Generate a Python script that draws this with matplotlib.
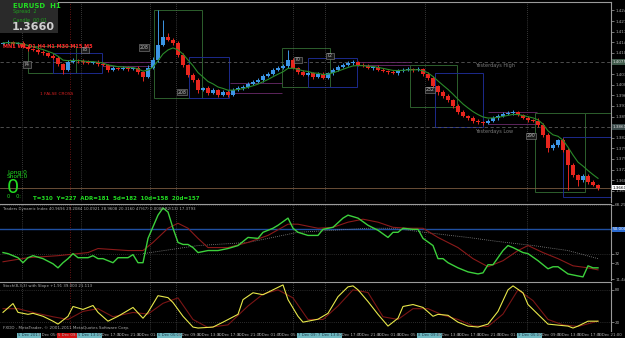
import matplotlib
matplotlib.use("Agg")
import matplotlib.pyplot as plt
from matplotlib.patches import Rectangle
import numpy as np
import pandas as pd

# ---- values (EURUSD H1) ----
first_open = 1.4135
closes = [1.4138, 1.4141, 1.4135, 1.4138, 1.4125, 1.4118, 1.4115, 1.4108, 1.4105, 1.4095,
          1.4089, 1.4069, 1.4049, 1.4075, 1.4082, 1.4079, 1.4075, 1.4072, 1.4075, 1.4069,
          1.4066, 1.4049, 1.4056, 1.4052, 1.4056, 1.4052, 1.4056, 1.4042, 1.4026, 1.4056,
          1.4082, 1.4132, 1.4158, 1.4148, 1.4138, 1.4099, 1.4066, 1.4033, 1.4016, 1.3983,
          1.3990, 1.3973, 1.3983, 1.3967, 1.3976, 1.3967, 1.3983, 1.3990, 1.3993, 1.4003,
          1.4009, 1.4016, 1.4029, 1.4036, 1.4049, 1.4056, 1.4062, 1.4082, 1.4056, 1.4042,
          1.4033, 1.4039, 1.4026, 1.4036, 1.4023, 1.4039, 1.4049, 1.4059, 1.4066, 1.4072,
          1.4075, 1.4066, 1.4062, 1.4056, 1.4059, 1.4049, 1.4046, 1.4042, 1.4039, 1.4046,
          1.4049, 1.4052, 1.4049, 1.4052, 1.4036, 1.4023, 1.3996, 1.3976, 1.3963, 1.3950,
          1.3930, 1.3910, 1.3897, 1.3891, 1.3881, 1.3877, 1.3874, 1.3881, 1.3891, 1.3897,
          1.3904, 1.3907, 1.3910, 1.3900, 1.3891, 1.3884, 1.3881, 1.3868, 1.3835, 1.3792,
          1.3802, 1.3818, 1.3785, 1.3736, 1.3703, 1.3686, 1.3699, 1.3680, 1.3670, 1.3660]
# wick lengths in pips above / below the body
hi_wick = [4, 5, 3, 4, 6, 5, 4, 6, 5, 4, 6, 5, 4, 7, 5, 4, 6, 5, 4, 5,
           6, 4, 5, 4, 6, 5, 4, 5, 4, 8, 10, 115, 56, 13, 6, 5, 6, 4, 5, 6,
           4, 5, 6, 4, 5, 6, 7, 5, 6, 5, 7, 6, 5, 6, 7, 5, 6, 33, 5, 4,
           6, 5, 4, 6, 5, 4, 6, 5, 7, 6, 5, 4, 6, 5, 4, 5, 6, 4, 5, 6,
           5, 6, 4, 5, 4, 6, 5, 4, 6, 5, 4, 6, 5, 4, 6, 5, 4, 6, 5, 7,
           6, 5, 6, 4, 5, 6, 4, 8, 5, 6, 5, 4, 7, 5, 6, 4, 8, 6, 5, 4]
lo_wick = [5, 4, 6, 4, 5, 6, 4, 5, 6, 5, 4, 6, 12, 5, 4, 6, 5, 4, 5, 6,
           4, 7, 5, 4, 5, 6, 4, 6, 15, 5, 4, 6, 5, 4, 6, 8, 7, 8, 6, 9,
           5, 6, 4, 7, 5, 6, 4, 5, 6, 4, 5, 4, 6, 5, 4, 5, 4, 6, 5, 6,
           4, 5, 6, 4, 5, 4, 6, 5, 4, 5, 6, 4, 5, 4, 6, 5, 4, 5, 4, 6,
           5, 4, 6, 5, 6, 8, 7, 9, 6, 8, 7, 6, 5, 9, 6, 5, 8, 4, 5, 6,
           4, 5, 6, 4, 5, 6, 5, 7, 8, 15, 6, 7, 8, 83, 9, 20, 6, 8, 5, 7]

# zones drawn on the price chart: (bar from, bar to, price low, price high)
green_boxes = [(5, 14.5, 1.4039, 1.4128), (30.2, 39.8, 1.3957, 1.4247),
               (55.8, 65.4, 1.3993, 1.4122), (81.4, 90.8, 1.3927, 1.4066),
               (106.4, 116.4, 1.3646, 1.3907)]
blue_boxes = [(10, 19.8, 1.4039, 1.4105), (37.2, 45.2, 1.3957, 1.4092),
              (61, 70.8, 1.3993, 1.4089), (86.4, 96, 1.3861, 1.4039),
              (112, 121.8, 1.3630, 1.3828)]
purple_pairs = [(20, 30, 1.4062, 1.4075), (45.4, 55.8, 1.3973, 1.4006),
                (70.8, 81.4, 1.4066, 1.4075), (97, 106.8, 1.3871, 1.3910)]
tags = [(4.8, 1.4066, "74"), (16.4, 1.4115, "78"), (28.2, 1.4122, "208"),
        (35.8, 1.3976, "208"), (59, 1.4082, "70"), (65.4, 1.4095, "72"),
        (85.4, 1.3983, "232"), (105.6, 1.3831, "290")]
yest_high = 1.4075
yest_low = 1.3861
sep_bars = [3.8, 15.6, 29.4, 34.6, 58, 64.4, 84.4, 104.8]
red_sep_bar = 13.4

# Traders Dynamic Index
tdi_bar = [0, 1, 3, 4, 5, 6, 8, 10, 11, 12, 13, 14, 15, 17, 18, 19, 20, 22, 23, 25,
           26, 27, 28, 29, 31, 32, 33, 34, 35, 36, 37, 38, 39, 41, 43, 45, 47, 49, 51, 52,
           54, 55, 57, 58, 59, 61, 63, 64, 66, 68, 69, 71, 73, 75, 77, 78, 79, 80, 82, 83,
           84, 86, 87, 88, 89, 91, 93, 95, 96, 97, 98, 100, 101, 102, 104, 105, 107, 109, 110, 111,
           113, 115, 116, 117, 118, 119]
tdi_rsi = [32.8, 32.0, 29.0, 25.3, 29.0, 30.5, 28.3, 24.5, 21.5, 25.3,
           28.3, 32.0, 29.0, 29.0, 30.5, 28.3, 28.3, 25.3, 29.0, 29.0,
           31.3, 25.3, 25.3, 43.3, 60.5, 65.8, 62.8, 50.8, 40.3, 38.8,
           38.8, 36.5, 32.8, 34.3, 34.3, 35.8, 38.0, 44.0, 43.3, 47.8,
           50.8, 53.0, 58.3, 50.8, 47.8, 45.5, 45.5, 50.0, 51.5, 58.3,
           60.5, 58.3, 53.0, 49.3, 44.0, 47.8, 47.8, 50.8, 50.0, 50.0,
           43.3, 38.0, 28.3, 28.3, 25.3, 21.5, 18.5, 17.0, 17.8, 23.8,
           23.8, 34.3, 38.0, 36.5, 32.8, 32.0, 26.8, 20.8, 22.3, 22.3,
           17.0, 15.5, 14.8, 23.0, 21.5, 21.5]
sig_bar = [0, 5, 11, 17, 19, 25, 28, 30, 33, 35, 37, 39, 41, 45, 49, 53, 57, 59, 63, 66,
           69, 72, 75, 78, 81, 84, 87, 91, 94, 97, 100, 103, 105, 108, 111, 114, 117, 119]
tdi_signal = [26.0, 29.0, 30.5, 32.8, 35.8, 34.3, 34.3, 40.3, 50.8, 54.5,
              50.8, 43.3, 36.5, 36.5, 40.3, 45.5, 53.8, 53.8, 50.8, 51.5,
              55.3, 57.5, 55.3, 51.5, 50.8, 50.8, 44.0, 36.5, 28.3, 22.3,
              26.8, 34.3, 38.0, 32.8, 28.3, 23.0, 21.5, 20.0]
slow_bar = [28, 39, 49, 59, 66, 73, 78, 86, 93, 99, 106, 113, 119]
tdi_slow = [32.0, 38.0, 40.3, 47.8, 49.3, 50.8, 50.8, 47.0, 44.0, 41.0, 38.0, 34.3, 28.3]

# Stochastic
st_bar = [0, 2, 3, 5, 6, 8, 10, 11, 13, 14, 16, 18, 19, 21, 23, 26, 28, 29, 31, 33,
          34, 36, 38, 39, 42, 44, 47, 48, 50, 52, 54, 56, 57, 59, 60, 62, 63, 65, 67, 69,
          70, 71, 73, 75, 77, 79, 80, 82, 84, 86, 87, 89, 91, 93, 95, 97, 99, 101, 102, 104,
          105, 107, 109, 111, 113, 114, 115, 117, 119]
stoch_k = [38.2, 54.5, 38.2, 34.5, 36.4, 30.9, 21.8, 16.4, 30.9, 49.1,
           43.6, 50.9, 38.2, 21.8, 30.9, 47.3, 27.3, 38.2, 69.1, 65.5,
           56.4, 30.9, 10.9, 9.1, 10.9, 20.0, 34.5, 61.8, 74.5, 70.9,
           80.0, 89.1, 61.8, 30.9, 20.0, 23.6, 25.5, 36.4, 67.3, 85.5,
           87.3, 80.0, 58.2, 34.5, 12.7, 27.3, 49.1, 52.7, 47.3, 30.9,
           34.5, 32.7, 20.0, 12.7, 10.9, 16.4, 40.0, 80.0, 87.3, 74.5,
           52.7, 34.5, 16.4, 14.5, 12.7, 9.1, 12.7, 21.8, 21.8]
std_bar = [0, 3, 6, 10, 13, 16, 19, 22, 26, 29, 32, 35, 38, 41, 45, 49, 52, 55, 58, 61,
           64, 67, 70, 73, 76, 79, 82, 85, 88, 91, 94, 97, 100, 103, 106, 109, 112, 115, 119]
stoch_d = [45, 45, 38, 30, 25, 40, 45, 30, 38, 35, 55, 65, 25, 10, 15, 50, 72, 80, 65, 25,
           25, 50, 80, 75, 30, 25, 45, 45, 33, 25, 13, 12, 35, 80, 60, 25, 15, 12, 22]

W, H = 625.0, 338.0
GREEN = "#22dd22"
AXIS = "#a8a8a8"

fig = plt.figure(figsize=(W / 100, H / 100), dpi=100, facecolor="black")


def panel(top, bottom):
    a = fig.add_axes([0, 1 - bottom / H, 611 / W, (bottom - top) / H])
    a.set_facecolor("black")
    a.spines["left"].set_visible(False)
    a.spines["bottom"].set_visible(False)
    for s in ("top", "right"):
        a.spines[s].set_color("#9a9a9a")
        a.spines[s].set_linewidth(0.8)
    a.yaxis.tick_right()
    a.tick_params(axis="y", colors=AXIS, labelsize=3, length=2, width=0.5, pad=1)
    a.tick_params(axis="x", bottom=False, labelbottom=False, length=0)
    a.set_xlim(-0.6, 121.6)
    for b in sep_bars:
        a.axvline(b, color="#6a6a6a", ls=(0, (1, 2)), lw=0.5)
    a.axvline(red_sep_bar, color="#8b1a1a", ls=(0, (1, 2)), lw=0.6)
    return a


ax = panel(2, 202)
ax_tdi = panel(204, 280)
ax_st = panel(282, 331)

# ---- price chart ----
close = np.array(closes)
open_ = np.concatenate([[first_open], close[:-1]])
high = np.maximum(open_, close) + np.array(hi_wick) * 0.0001
low = np.minimum(open_, close) - np.array(lo_wick) * 0.0001
bars = np.arange(len(close))
col = np.where(close > open_, "#3c96e6", "#e8261e")

ax.set_ylim(1.3613, 1.4273)
ticks = np.round(1.3650 + 0.0035 * np.arange(18), 4)
ax.set_yticks(ticks)
ax.set_yticklabels(["%.4f" % t for t in ticks])

ax.axhline(yest_high, color="#5a5a5a", ls=(0, (4, 3)), lw=0.6)
ax.axhline(yest_low, color="#5a5a5a", ls=(0, (4, 3)), lw=0.6)
ax.axhline(close[-1], color="#7a5a40", lw=0.6)

for x0, x1, lo, hi in green_boxes:
    ax.add_patch(Rectangle((x0, lo), x1 - x0, hi - lo, fill=False,
                           edgecolor="#2d5f2d", lw=0.7))
for x0, x1, lo, hi in blue_boxes:
    ax.add_patch(Rectangle((x0, lo), x1 - x0, hi - lo, fill=False,
                           edgecolor="#1c2a8c", lw=0.7))
for x0, x1, lo, hi in purple_pairs:
    ax.hlines([lo, hi], x0, x1, colors="#6b2a6b", lw=0.6)
ax.hlines(green_boxes[-1][3], green_boxes[-1][1], 121.6, colors="#2d5f2d", lw=0.7)

ax.vlines(bars, low, high, colors=col, lw=0.7, zorder=3)
ax.bar(bars, np.maximum(np.abs(close - open_), 0.0002), bottom=np.minimum(open_, close),
       width=0.62, color=col, linewidth=0, zorder=3)
ema = pd.Series(close).ewm(span=6, adjust=False).mean()
ax.plot(bars, ema, color="#2a8a2a", lw=0.8, zorder=4)

for bx, by, t in tags:
    ax.text(bx, by, t, fontsize=3.3, color="#bbbbbb", ha="center", va="center", zorder=5,
            bbox=dict(facecolor="#1a1a1a", edgecolor="#888888", lw=0.4, pad=0.6))
ax.text(94.4, 1.4062, "Yesterdays High", fontsize=3.6, color="#7a7a7a", va="center")
ax.text(94.4, 1.3844, "Yesterdays Low", fontsize=3.6, color="#7a7a7a", va="center")
ax.text(7.4, 1.3970, "1 FALSE CROSS", fontsize=3.2, color="#d02020", va="center")

ytr = ax.get_yaxis_transform()
ax.text(1.003, yest_high, "%.4f" % yest_high, transform=ytr, fontsize=3, color="#dddddd",
        va="center", bbox=dict(facecolor="#3f5a4a", edgecolor="none", pad=0.5))
ax.text(1.003, yest_low, "%.4f" % yest_low, transform=ytr, fontsize=3, color="#dddddd",
        va="center", bbox=dict(facecolor="#3a4a4a", edgecolor="none", pad=0.5))
ax.text(1.003, close[-1], "%.4f" % close[-1], transform=ytr, fontsize=3, color="black",
        va="center", bbox=dict(facecolor="white", edgecolor="none", pad=0.5))

# ---- TDI ----
ax_tdi.set_ylim(12.5, 68.75)
ax_tdi.set_yticks([68.29, 32, 25, 13.2])
ax_tdi.set_yticklabels(["68.2936", "32", "25", "11.4460"])
ax_tdi.axhline(50, color="#1f4fa0", lw=1.0)
ax_tdi.axhline(68, color="#555555", ls=(0, (1, 2)), lw=0.5)
ax_tdi.axhline(32, color="#555555", ls=(0, (1, 2)), lw=0.5)
ax_tdi.plot(slow_bar, tdi_slow, color="#8a8a8a", ls=(0, (1, 1.5)), lw=0.6)
ax_tdi.plot(sig_bar, tdi_signal, color="#8b1a1a", lw=0.8)
ax_tdi.plot(tdi_bar, tdi_rsi, color="#3cd13c", lw=1.0)
ax_tdi.text(0.005, 0.96, "Traders Dynamic Index 40.9696 29.2084 10.0921 28.9608 20.3160 "
            "47(67) 0.0000 R2(13) 17.3793", transform=ax_tdi.transAxes, fontsize=2.8,
            color="#b0b0b0", va="top")
ax_tdi.text(1.003, 50, "50.0000", transform=ax_tdi.get_yaxis_transform(), fontsize=3,
            color="white", va="center", bbox=dict(facecolor="#2a6ad0", edgecolor="none", pad=0.5))

# ---- Stochastic ----
ax_st.set_ylim(3.6, 94.5)
ax_st.set_yticks([80, 20])
ax_st.axhline(80, color="#555555", ls=(0, (1, 2)), lw=0.5)
ax_st.axhline(20, color="#555555", ls=(0, (1, 2)), lw=0.5)
ax_st.plot(std_bar, stoch_d, color="#7a1515", lw=0.8)
ax_st.plot(st_bar, stoch_k, color="#e8e84a", lw=0.8)
ax_st.text(0.005, 0.96, "Stoch(8,3,3) with Slope +1.91 39.003 21.113",
           transform=ax_st.transAxes, fontsize=2.8, color="#b0b0b0", va="top")
ax_st.text(0.005, 0.03, "FXDD - MetaTrader, \u00a9 2001-2011 MetaQuotes Software Corp.",
           transform=ax_st.transAxes, fontsize=3, color="#aaaaaa", va="bottom")

times = pd.date_range("2011-12-04 22:00", periods=len(closes), freq="h")
lab_bars = list(range(3, len(closes), 4))
labels = ["%d %s" % (times[b].day, times[b].strftime("%b %H:%M")) for b in lab_bars]
labels[0] = "5 Dec 2011"
ax_st.set_xticks(lab_bars)
ax_st.set_xticklabels(labels, ha="left")
ax_st.tick_params(axis="x", bottom=False, labelbottom=True, length=0, labelsize=2.8,
                  colors="#b0b0b0", pad=1.5)
ax_st.set_xlim(-0.6, 121.6)
teal = {0, 3, 7, 14, 15, 20, 25}
for k, lbl in enumerate(ax_st.get_xticklabels()):
    if k in teal:
        lbl.set_bbox(dict(facecolor="#6fb8c0", edgecolor="none", pad=0.4))
        lbl.set_color("#1a3a4a")
    elif k == 2:
        lbl.set_bbox(dict(facecolor="#d01010", edgecolor="none", pad=0.4))

# ---- info overlay ----
fig.patches.append(Rectangle((0, 1 - 33 / H), 58 / W, 33 / H, transform=fig.transFigure,
                             facecolor="#2a2a2a", edgecolor="none"))
fig.text(13 / W, 1 - 6 / H, "EURUSD  H1", color=GREEN, fontsize=5, weight="bold", va="center")
fig.text(13 / W, 1 - 11 / H, "Spread  2", color="#1fa01f", fontsize=3.5, va="center")
fig.text(13 / W, 1 - 20 / H, "Candle  00:01", color="#1fa01f", fontsize=3.5, va="center")
fig.text(12 / W, 1 - 27.5 / H, "1.3660", color="#d0d0d0", fontsize=8, weight="bold", va="center")
fig.text(3 / W, 1 - 47 / H, "MN1 W1 D1 H4 H1 M30 M15 M5", color="#ff2a2a", fontsize=3.6,
         weight="bold", va="center")

fig.text(7 / W, 1 - 172 / H, "Long:0", color=GREEN, fontsize=4.2, va="center")
fig.text(7 / W, 1 - 177 / H, "Short:0", color=GREEN, fontsize=4.2, va="center")
fig.text(7 / W, 1 - 187 / H, "0", color=GREEN, fontsize=14, va="center")
fig.text(7 / W, 1 - 197 / H, "0    0:", color=GREEN, fontsize=3.5, va="center")
fig.text(33 / W, 1 - 198 / H, "T=310  Y=227  ADR=181  5d=182  10d=158  20d=157",
         color=GREEN, fontsize=4, weight="bold", va="center")

fig.savefig("out.png", dpi=100, facecolor="black")
